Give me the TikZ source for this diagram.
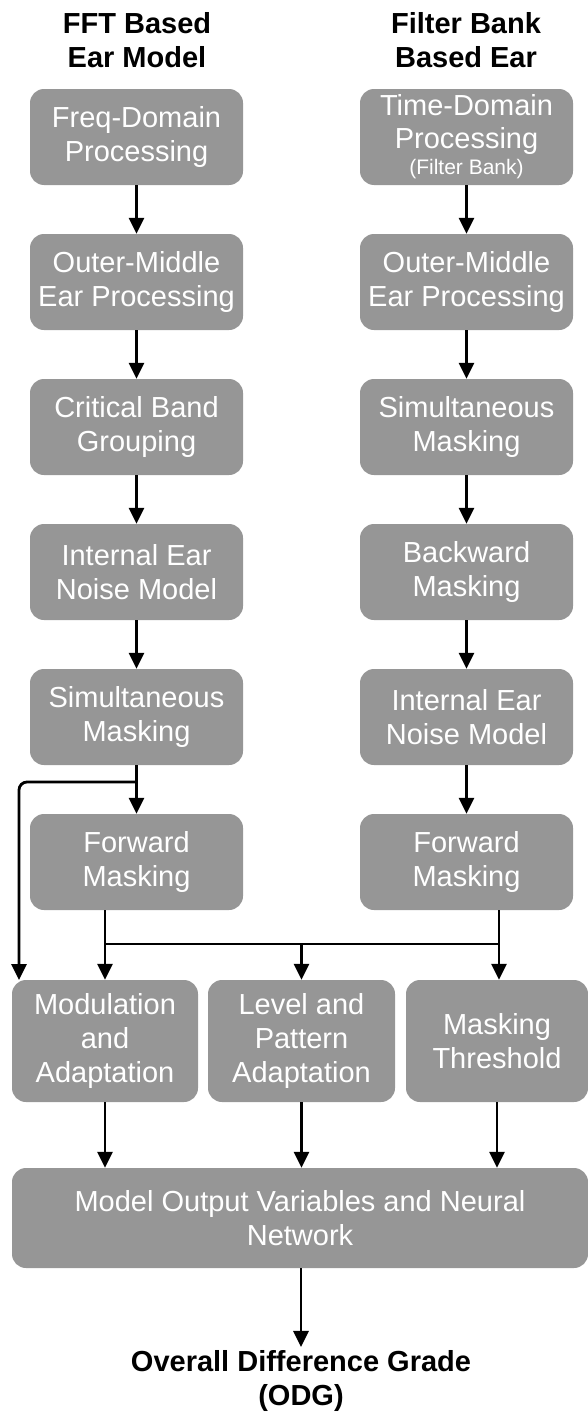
\documentclass[tikz,border=0pt]{standalone}
\usepackage{fontspec}
\setmainfont{Liberation Sans}
\usetikzlibrary{arrows.meta}
\definecolor{boxgray}{RGB}{150,150,150}
\begin{document}
\begin{tikzpicture}[x=1pt,y=-1pt,
  box/.style={fill=boxgray, rounded corners=14pt, text=white, align=center,
    font=\fontsize{29}{34}\selectfont, minimum width=213pt, minimum height=96pt, inner sep=0pt},
  wbox/.style={box, minimum width=#1},
  arr/.style={-{Triangle[length=16pt,width=15pt]}, line width=2.8pt},
  plain/.style={line width=2.8pt},
  title/.style={align=center, font=\fontsize{29}{34}\selectfont\bfseries}]
\useasboundingbox (0,0) rectangle (588,1413);
% titles
\node[title] (t1) at (137,40) {FFT Based\\Ear Model};
\node[title] (t2) at (466,40) {Filter Bank\\Based Ear};
% left column
\node[box] (l1) at (136.5,137) {Freq-Domain\\Processing};
\node[box] (l2) at (136.5,282) {Outer-Middle\\Ear Processing};
\node[box] (l3) at (136.5,427) {Critical Band\\Grouping};
\node[box] (l4) at (136.5,572) {Internal Ear\\Noise Model};
\node[box] (l5) at (136.5,717) {Simultaneous\\Masking};
\node[box] (l6) at (136.5,862) {Forward\\Masking};
% right column
\node[box, font=\fontsize{29}{33}\selectfont] (r1) at (466.5,137) {Time-Domain\\Processing\\[-7pt]{\fontsize{21}{22}\selectfont (Filter Bank)}};
\node[box] (r2) at (466.5,282) {Outer-Middle\\Ear Processing};
\node[box] (r3) at (466.5,427) {Simultaneous\\Masking};
\node[box] (r4) at (466.5,572) {Backward\\Masking};
\node[box] (r5) at (466.5,717) {Internal Ear\\Noise Model};
\node[box] (r6) at (466.5,862) {Forward\\Masking};
% bottom row
\node[wbox=186pt, minimum height=122pt] (mod) at (105,1041) {Modulation\\and\\Adaptation};
\node[wbox=187pt, minimum height=122pt] (lev) at (301.5,1041) {Level and\\Pattern\\Adaptation};
\node[wbox=182pt, minimum height=122pt] (mth) at (497,1041) {Masking\\Threshold};
\node[wbox=576pt, minimum height=100pt] (mov) at (300,1218) {Model Output Variables and Neural\\Network};
\node[title] (odg) at (301,1381) {Overall Difference Grade\\(ODG)};
% column arrows
\foreach \a/\b in {l1/l2,l2/l3,l3/l4,l4/l5,l5/l6,r1/r2,r2/r3,r3/r4,r4/r5,r5/r6}
  \draw[arr] (\a.south) -- (\b.north);
% bypass
\coordinate (bp) at (137,782);
\draw[arr, rounded corners=8pt] (bp) -| (19,980);
% merge
\coordinate (hl) at (105,944);
\coordinate (hr) at (499,944);
\coordinate (hm) at (301.5,944);
\draw[plain] (hl) -- (hr);
\draw[arr] (105,910) -- (mod.north -| hl);
\draw[arr] (499,910) -- (mth.north -| hr);
\draw[arr] (hm) -- (lev.north);
% to big box
\draw[arr] (mod.south) -- (mov.north -| mod.south);
\draw[arr] (lev.south) -- (mov.north -| lev.south);
\draw[arr] (mth.south) -- (mov.north -| mth.south);
\draw[arr] (mov.south -| odg.north) -- (odg.north);
\end{tikzpicture}
\end{document}
